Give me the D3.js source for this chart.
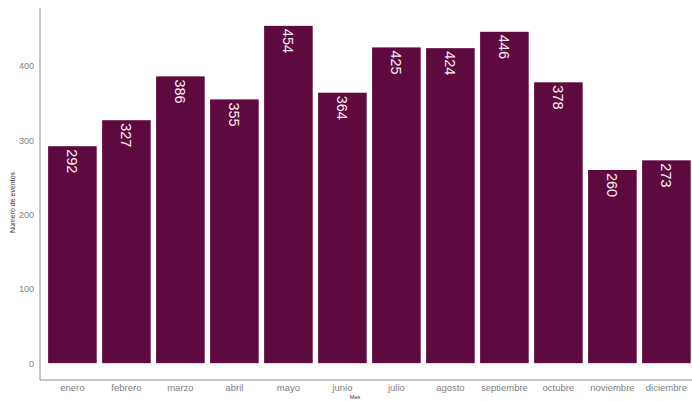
<!DOCTYPE html>
<html><head><meta charset="utf-8">
<script src="https://cdn.jsdelivr.net/npm/d3@7"></script>
<style>body{margin:0;background:#fff}svg{display:block;font-family:"Liberation Sans",Arial,sans-serif}</style>
</head><body>
<svg id="c" width="692" height="401"></svg>
<script>
const months = ["enero","febrero","marzo","abril","mayo","junio","julio","agosto","septiembre","octubre","noviembre","diciembre"];
const counts = [292,327,386,355,454,364,425,424,446,378,260,273];
const yTicks = [0,100,200,300,400];

const svg = d3.select("#c");
const mLeft = 40, mRight = 698.8, mTop = 9, mBottom = 380;
const x = d3.scaleBand().domain(months).range([mLeft, mRight]).paddingInner(0.1).paddingOuter(0.15);
const y = d3.scaleLinear().domain([-22.7, 476.7]).range([mBottom, mTop]);

// bars
svg.append("g").selectAll("rect").data(months).join("rect")
  .attr("x", d => x(d))
  .attr("width", x.bandwidth())
  .attr("y", (d,i) => y(counts[i]))
  .attr("height", (d,i) => y(0) - y(counts[i]))
  .attr("fill", "#5e0a3f");

// value labels
svg.append("g").selectAll("text").data(months).join("text")
  .attr("transform", (d,i) => `translate(${x(d) + x.bandwidth()/2},${y(counts[i]) + 3}) rotate(90)`)
  .attr("dominant-baseline", "central")
  .attr("text-anchor", "start")
  .attr("fill", "#fbeef5")
  .attr("font-size", 14.5)
  .text((d,i) => counts[i]);

// axes
const ya = svg.append("g").attr("transform", `translate(${mLeft},0)`)
  .call(d3.axisLeft(y).tickValues(yTicks).tickSize(0).tickPadding(6));
ya.select(".domain").attr("stroke", "#8c8c8c").attr("stroke-width", 1).attr("d", `M0,${mTop-1}V${mBottom}`);
ya.selectAll("text").attr("fill", "#808080").attr("font-size", 9).attr("font-family", "Liberation Sans, Arial, sans-serif");

const xa = svg.append("g").attr("transform", `translate(0,${mBottom})`)
  .call(d3.axisBottom(x).tickSize(0).tickPadding(4));
xa.select(".domain").attr("stroke", "#8c8c8c").attr("stroke-width", 1).attr("d", `M${mLeft},0H${mRight}`);
xa.selectAll("text").attr("fill", "#808080").attr("font-size", 9.5).attr("font-family", "Liberation Sans, Arial, sans-serif");

// axis titles
svg.append("text").attr("transform", `translate(15,${(mTop+mBottom)/2 + 8}) rotate(-90)`)
  .attr("text-anchor", "middle").attr("font-size", 7).attr("fill", "#333").text("Número de eventos");
svg.append("text").attr("x", 355).attr("y", 399)
  .attr("text-anchor", "middle").attr("font-size", 5.5).attr("fill", "#333").text("Mes");
</script>
</body></html>
